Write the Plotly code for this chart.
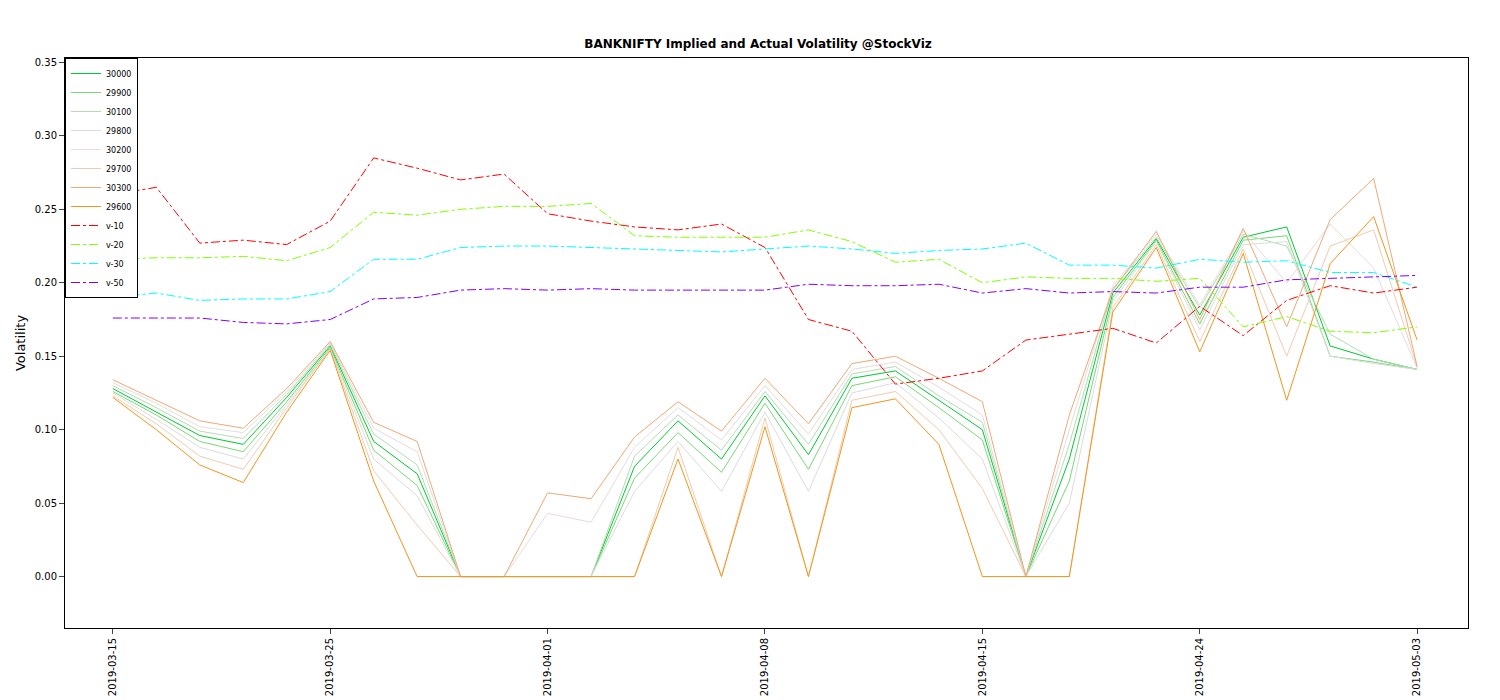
import plotly.graph_objects as go

dates = ["2019-03-15","2019-03-18","2019-03-19","2019-03-20","2019-03-22","2019-03-25","2019-03-26","2019-03-27","2019-03-28","2019-03-29",
         "2019-04-01","2019-04-02","2019-04-03","2019-04-04","2019-04-05","2019-04-08","2019-04-09","2019-04-10","2019-04-11","2019-04-12",
         "2019-04-15","2019-04-16","2019-04-18","2019-04-22","2019-04-23","2019-04-24","2019-04-25","2019-04-26","2019-04-30","2019-05-02","2019-05-03"]
tick_labels = ["2019-03-15","2019-03-25","2019-04-01","2019-04-08","2019-04-15","2019-04-24","2019-05-03"]

s30000 = [0.128,0.112,0.096,0.090,0.122,0.157,0.092,0.070,0,0,0,0,0.075,0.106,0.080,0.123,0.083,0.135,0.140,0.120,0.100,0,0.080,0.193,0.230,0.178,0.231,0.238,0.157,0.148,0.141]
s29900 = [0.126,0.110,0.092,0.085,0.119,0.156,0.086,0.062,0,0,0,0,0.067,0.098,0.071,0.118,0.073,0.130,0.136,0.115,0.093,0,0.065,0.190,0.229,0.172,0.229,0.232,0.150,0.146,0.141]
s30100 = [0.130,0.115,0.099,0.094,0.124,0.158,0.097,0.076,0,0,0,0,0.082,0.110,0.086,0.126,0.090,0.138,0.143,0.123,0.105,0,0.090,0.196,0.231,0.183,0.233,0.225,0.165,0.148,0.141]
s29800 = [0.125,0.107,0.088,0.080,0.117,0.155,0.080,0.055,0,0,0,0,0.058,0.092,0.058,0.112,0.058,0.125,0.132,0.108,0.080,0,0.050,0.187,0.228,0.168,0.226,0.228,0.150,0.145,0.141]
s30200 = [0.132,0.118,0.102,0.098,0.126,0.159,0.101,0.085,0,0,0.043,0.037,0.088,0.115,0.093,0.130,0.097,0.141,0.146,0.129,0.110,0,0.100,0.198,0.233,0.185,0.235,0.200,0.240,0.210,0.142]
s29700 = [0.123,0.104,0.082,0.073,0.115,0.155,0.072,0.035,0,0,0,0,0,0.088,0,0.108,0,0.120,0.126,0.100,0.060,0,0,0.183,0.226,0.160,0.223,0.150,0.225,0.236,0.143]
s30300 = [0.134,0.120,0.106,0.101,0.128,0.160,0.105,0.092,0,0,0.057,0.053,0.095,0.119,0.099,0.135,0.104,0.145,0.150,0.135,0.119,0,0.110,0.195,0.235,0.175,0.237,0.170,0.243,0.271,0.143]
s29600 = [0.122,0.100,0.076,0.064,0.112,0.154,0.065,0,0,0,0,0,0,0.080,0,0.102,0,0.115,0.121,0.090,0,0,0,0.180,0.224,0.153,0.220,0.120,0.213,0.245,0.161]
v10 = [0.260,0.265,0.227,0.229,0.226,0.242,0.285,0.278,0.270,0.274,0.247,0.242,0.238,0.236,0.240,0.224,0.175,0.167,0.131,0.135,0.140,0.161,0.165,0.169,0.159,0.184,0.164,0.188,0.198,0.193,0.197]
v20 = [0.216,0.217,0.217,0.218,0.215,0.224,0.248,0.246,0.250,0.252,0.252,0.254,0.232,0.231,0.231,0.231,0.236,0.228,0.214,0.216,0.200,0.204,0.203,0.203,0.201,0.203,0.170,0.177,0.167,0.166,0.170]
v30 = [0.190,0.193,0.188,0.189,0.189,0.194,0.216,0.216,0.224,0.225,0.225,0.224,0.223,0.222,0.221,0.223,0.225,0.223,0.220,0.222,0.223,0.227,0.212,0.212,0.210,0.216,0.214,0.215,0.207,0.207,0.197]
v50 = [0.176,0.176,0.176,0.173,0.172,0.175,0.189,0.190,0.195,0.196,0.195,0.196,0.195,0.195,0.195,0.195,0.199,0.198,0.198,0.199,0.193,0.196,0.193,0.194,0.193,0.197,0.197,0.202,0.203,0.204,0.205]

series = [("30000", s30000, "#00C832", "solid"),
          ("29900", s29900, "#78D878", "solid"),
          ("30100", s30100, "#B4DCB4", "solid"),
          ("29800", s29800, "#DCDCDC", "solid"),
          ("30200", s30200, "#E6DCDC", "solid"),
          ("29700", s29700, "#F0CCB0", "solid"),
          ("30300", s30300, "#EBAA78", "solid"),
          ("29600", s29600, "#F0961E", "solid"),
          ("v-10", v10, "#FF0000", "dashdot"),
          ("v-20", v20, "#80FF00", "dashdot"),
          ("v-30", v30, "#00FFFF", "dashdot"),
          ("v-50", v50, "#8000FF", "dashdot")]

fig = go.Figure()
for name, ys, col, dash in series:
    fig.add_trace(go.Scatter(x=dates, y=ys, mode="lines", name=name,
                             line=dict(color=col, width=1, dash=dash)))

fig.update_layout(
    width=1500, height=700, plot_bgcolor="white", paper_bgcolor="white",
    margin=dict(l=52, r=40, t=50, b=72),
    font=dict(family="DejaVu Sans", size=11, color="black"),
    title=dict(text="<b>BANKNIFTY Implied and Actual Volatility @StockViz</b>", x=0.5, xanchor="center", y=0.955, font=dict(size=12)),
    legend=dict(x=0, y=1, xanchor="left", yanchor="top", bordercolor="black", borderwidth=1,
                bgcolor="white", font=dict(size=8), tracegroupgap=0, itemwidth=30),
    showlegend=True,
)
fig.update_xaxes(type="category", tickmode="array", tickvals=tick_labels, ticktext=tick_labels,
                 tickangle=-90, range=[-1.1, 31.17], showgrid=False, showline=True, mirror=True,
                 linecolor="black", ticks="outside", tickfont=dict(size=10))
fig.update_yaxes(range=[-0.035, 0.353], tickvals=[0,0.05,0.1,0.15,0.2,0.25,0.3,0.35], tickformat=".2f",
                 showgrid=False, showline=True, mirror=True, linecolor="black", ticks="outside",
                 zeroline=False, title=dict(text="Volatility", standoff=6), tickfont=dict(size=10))
fig.write_html("out.html")
